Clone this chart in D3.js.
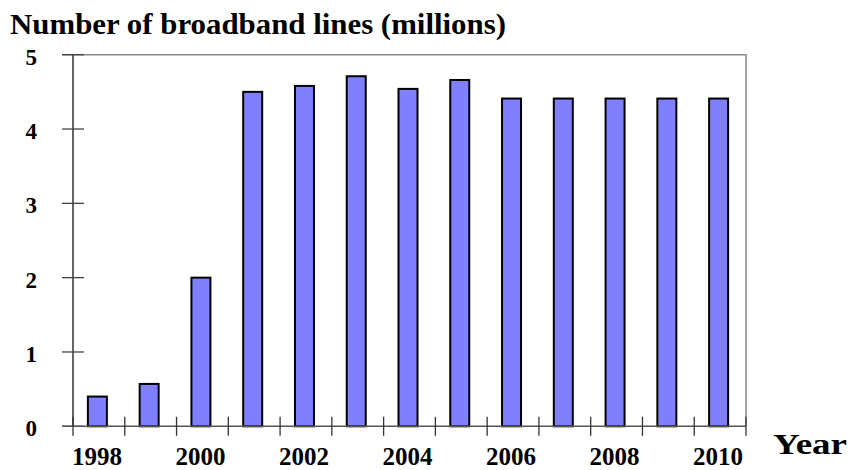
<!DOCTYPE html>
<html><head><meta charset="utf-8">
<script src="https://cdn.jsdelivr.net/npm/d3@7"></script>
<style>
html,body{margin:0;padding:0;background:#fff;}
svg{display:block;}
</style></head>
<body>
<svg id="chart" width="851" height="470"></svg>
<script>
const years = ["1998","1999","2000","2001","2002","2003","2004","2005","2006","2007","2008","2009","2010"];
const lines = [0.40, 0.57, 2.0, 4.50, 4.58, 4.71, 4.54, 4.66, 4.41, 4.41, 4.41, 4.41, 4.41];
const yTicks = [0, 1, 2, 3, 4, 5];
const xLabels = ["1998","2000","2002","2004","2006","2008","2010"];
const title = "Number of broadband lines (millions)";
const xTitle = "Year";

const FONT = "'Liberation Serif', 'Times New Roman', Times, 'DejaVu Serif', serif";
const svg = d3.select("#chart")
  .attr("font-family", FONT).attr("font-weight", "bold");
const pLeft = 73, pRight = 746, pTop = 54.7, pBottom = 426.3;

const x = d3.scaleBand().domain(years).range([pLeft, pRight]).padding(0);
const y = d3.scaleLinear().domain([0, 5]).range([pBottom, pTop]);

// plot frame (top and right, gray)
svg.append("path")
  .attr("d", `M${pLeft - 11},${pTop}H${pRight}V${pBottom}`)
  .attr("fill", "none").attr("stroke", "#8a8a8a").attr("stroke-width", 1.5);

// bars
const bw = x.bandwidth() * 0.367;
svg.append("g").selectAll("rect").data(years).join("rect")
  .attr("x", (d) => x(d) + x.bandwidth() / 2 - bw / 2 - 1.5)
  .attr("y", (d, i) => y(lines[i]))
  .attr("width", bw)
  .attr("height", (d, i) => y(0) - y(lines[i]))
  .attr("fill", "#8080ff")
  .attr("stroke", "#000")
  .attr("stroke-width", 2);

// y axis
const yAxis = svg.append("g");
yAxis.append("line").attr("x1", pLeft).attr("x2", pLeft).attr("y1", pTop).attr("y2", pBottom)
  .attr("stroke", "#333").attr("stroke-width", 1.5);
yAxis.selectAll(".yt").data(yTicks).join("line")
  .attr("x1", pLeft - 11).attr("x2", pLeft + 11)
  .attr("y1", (d) => y(d)).attr("y2", (d) => y(d))
  .attr("stroke", "#444").attr("stroke-width", 1.3);
yAxis.selectAll(".yl").data(yTicks).join("text")
  .attr("x", 37).attr("y", (d) => y(d) + 10)
  .attr("text-anchor", "end").attr("font-size", 23)
  .style("font-family", FONT).style("font-weight", "bold")
  .text((d) => d);

// x axis
const xAxis = svg.append("g");
xAxis.append("line").attr("x1", pLeft - 11).attr("x2", pRight).attr("y1", pBottom).attr("y2", pBottom)
  .attr("stroke", "#555").attr("stroke-width", 1.5);
const bounds = years.map((d) => x(d)).concat([pRight]);
xAxis.selectAll(".xt").data(bounds).join("line")
  .attr("x1", (d) => d).attr("x2", (d) => d)
  .attr("y1", pBottom - 9.5).attr("y2", pBottom + 9.5)
  .attr("stroke", "#333").attr("stroke-width", 1.3);
xAxis.selectAll(".xl").data(xLabels).join("text")
  .attr("x", (d) => x(d) + x.bandwidth() / 2 - 2)
  .attr("y", 464.6)
  .attr("text-anchor", "middle").attr("font-size", 25)
  .style("font-family", FONT).style("font-weight", "bold")
  .text((d) => d);

// titles
svg.append("text").attr("x", 10).attr("y", 34.3).attr("font-size", 30)
  .attr("textLength", 496).attr("lengthAdjust", "spacingAndGlyphs")
  .style("font-family", FONT).style("font-weight", "bold").text(title);
svg.append("text").attr("x", 773).attr("y", 454).attr("font-size", 29)
  .attr("textLength", 74).attr("lengthAdjust", "spacingAndGlyphs")
  .style("font-family", FONT).style("font-weight", "bold").text(xTitle);
</script>
</body></html>
